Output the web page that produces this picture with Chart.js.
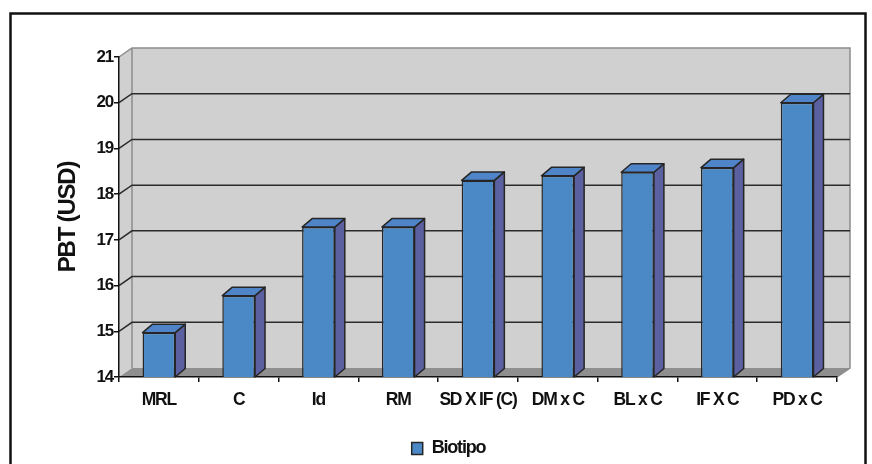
<!DOCTYPE html>
<html><head><meta charset="utf-8">
<script src="https://cdn.jsdelivr.net/npm/chart.js@4.4.1/dist/chart.umd.min.js"></script>
<style>html,body{margin:0;padding:0;background:#fff}canvas{display:block}</style>
</head><body>
<canvas id="c" width="872" height="464"></canvas>
<script>
// Profit per biotype (PBT), in USD
const categories = ['MRL', 'C', 'Id', 'RM', 'SD X IF (C)', 'DM x C', 'BL x C', 'IF X C', 'PD x C'];
const pbtValues = [14.97, 15.78, 17.28, 17.28, 18.30, 18.40, 18.48, 18.58, 20.0];
const seriesName = 'Biotipo';
const axisTitle = 'PBT (USD)';
const yMin = 14;
const yMax = 21;
const yStep = 1;

const SANS = "'Liberation Sans', Arial, sans-serif";
const TIGHT = '-1.2px';   // tight letter spacing for all chart text

// depth offsets of the pseudo-3D room and of the columns
const WALL = {dx: 13, dy: -9};
const BAR = {dx: 10, dy: -8.5};
const COLORS = {
  front: '#4A88C6', side: '#5A60A0', top: '#4F84C9', edge: '#262626',
  wall: '#D0D0D0', wallEdge: '#8C8C8C', floor: '#8F8F8F', grid: '#2B2B2B', text: '#111111'
};

const room3d = {
  id: 'room3d',
  beforeUpdate(chart) {
    chart.ctx.letterSpacing = TIGHT;
  },
  beforeDraw(chart) {
    const {ctx, chartArea: a, scales: {y}} = chart;
    const L = a.left, R = a.right, T = a.top, B = a.bottom, dx = WALL.dx, dy = WALL.dy;
    ctx.save();
    ctx.fillStyle = '#fff';
    ctx.fillRect(0, 0, chart.width, chart.height);
    // outer frame
    ctx.strokeStyle = '#111';
    ctx.lineWidth = 2.5;
    ctx.strokeRect(10.5, 13.5, 855, 520);
    // back wall and side wall
    ctx.fillStyle = COLORS.wall;
    ctx.fillRect(L + dx, T + dy, R - L, B - T);
    ctx.beginPath();
    ctx.moveTo(L, T); ctx.lineTo(L + dx, T + dy); ctx.lineTo(L + dx, B + dy); ctx.lineTo(L, B);
    ctx.closePath(); ctx.fill();
    // floor
    ctx.fillStyle = COLORS.floor;
    ctx.beginPath();
    ctx.moveTo(L, B); ctx.lineTo(L + dx, B + dy); ctx.lineTo(R + dx, B + dy); ctx.lineTo(R, B);
    ctx.closePath(); ctx.fill();
    // wall outlines
    ctx.strokeStyle = COLORS.wallEdge;
    ctx.lineWidth = 1.5;
    ctx.beginPath();
    ctx.moveTo(L, T); ctx.lineTo(L + dx, T + dy); ctx.lineTo(R + dx, T + dy);
    ctx.lineTo(R + dx, B + dy); ctx.lineTo(R, B);
    ctx.moveTo(L + dx, T + dy); ctx.lineTo(L + dx, B + dy);
    ctx.stroke();
    // value grid lines across side wall and back wall
    ctx.strokeStyle = COLORS.grid;
    y.ticks.forEach(t => {
      if (t.value <= yMin || t.value >= yMax) return;
      const py = y.getPixelForValue(t.value);
      ctx.beginPath();
      ctx.moveTo(L, py); ctx.lineTo(L + dx, py + dy); ctx.lineTo(R + dx, py + dy);
      ctx.stroke();
    });
    ctx.restore();
    ctx.letterSpacing = TIGHT;
  },
  afterDatasetsDraw(chart) {
    const ctx = chart.ctx;
    const meta = chart.getDatasetMeta(0);
    const floorY = chart.scales.y.getPixelForValue(yMin);
    ctx.save();
    ctx.lineWidth = 1.5;
    ctx.strokeStyle = COLORS.edge;
    ctx.lineJoin = 'round';
    meta.data.forEach(bar => {
      const {x, y, width} = bar.getProps(['x', 'y', 'width'], true);
      const l = x - width / 2, r = x + width / 2, dx = BAR.dx, dy = BAR.dy;
      ctx.fillStyle = COLORS.side;
      ctx.beginPath();
      ctx.moveTo(r, y); ctx.lineTo(r + dx, y + dy); ctx.lineTo(r + dx, floorY + dy); ctx.lineTo(r, floorY);
      ctx.closePath(); ctx.fill(); ctx.stroke();
      ctx.fillStyle = COLORS.top;
      ctx.beginPath();
      ctx.moveTo(l, y); ctx.lineTo(l + dx, y + dy); ctx.lineTo(r + dx, y + dy); ctx.lineTo(r, y);
      ctx.closePath(); ctx.fill(); ctx.stroke();
    });
    ctx.restore();
  }
};

new Chart(document.getElementById('c'), {
  type: 'bar',
  data: {
    labels: categories,
    datasets: [{
      label: seriesName,
      data: pbtValues,
      backgroundColor: COLORS.front,
      borderColor: COLORS.edge,
      borderWidth: 1.5,
      borderSkipped: false,
      categoryPercentage: 1,
      barPercentage: 0.41
    }]
  },
  options: {
    responsive: false,
    animation: false,
    devicePixelRatio: 1,
    layout: {padding: {left: 60, right: 35, top: 57, bottom: -3.5}},
    plugins: {
      legend: {
        position: 'bottom',
        labels: {
          font: {family: SANS, size: 18, weight: 'bold'},
          color: COLORS.text, boxWidth: 11, boxHeight: 12, padding: 4
        }
      },
      tooltip: {enabled: false}
    },
    scales: {
      x: {
        grid: {display: true, drawOnChartArea: false, drawTicks: true, tickLength: 5, color: COLORS.text, lineWidth: 1.5, offset: true},
        border: {display: true, color: COLORS.text, width: 1.5},
        ticks: {font: {family: SANS, size: 17.5, weight: 'bold'}, color: COLORS.text, padding: 8, maxRotation: 0, autoSkip: false},
        afterFit(s) { s.height = 58.5; }
      },
      y: {
        min: yMin, max: yMax,
        ticks: {stepSize: yStep, font: {family: SANS, size: 17, weight: 'bold'}, color: COLORS.text, padding: 1},
        grid: {drawOnChartArea: false, tickLength: 5, color: COLORS.text, lineWidth: 1.5},
        border: {display: true, color: COLORS.text, width: 1.5},
        title: {
          display: true, text: axisTitle, color: COLORS.text,
          font: {family: SANS, size: 24, weight: 'bold', lineHeight: 1},
          padding: {top: -3.5, bottom: 0}
        },
        afterFit(s) { s.width = 59; }
      }
    }
  },
  plugins: [room3d]
});
</script>
</body></html>
